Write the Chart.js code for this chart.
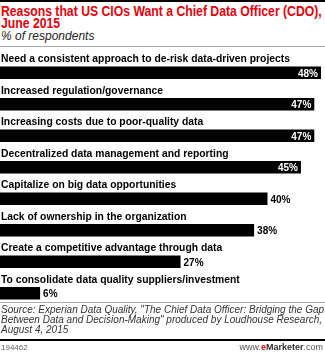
<!DOCTYPE html>
<html>
<head>
<meta charset="utf-8">
<script src="https://cdn.jsdelivr.net/npm/chart.js@4"></script>
<style>
  html, body { margin: 0; padding: 0; background: #fff; }
  #wrap { position: relative; width: 325px; height: 355px; overflow: hidden; font-family: "Liberation Sans", Arial, sans-serif; }
  .line { position: absolute; left: 1px; white-space: nowrap; transform-origin: 0 0; }
  .topline { position: absolute; left: 0; top: 0; width: 325px; height: 2px; background: #000; }
  .title { color: #e5000b; font-weight: bold; font-size: 15px; line-height: 12px; }
  .subtitle { color: #222; font-style: italic; font-size: 12px; line-height: 12px; }
  .sep { position: absolute; left: 0; top: 46px; width: 325px; height: 1px; background: #aaa; }
  #chartBox { position: absolute; left: 0; top: 45px; width: 325px; height: 264px; }
  .fsep { position: absolute; left: 0; top: 302px; width: 325px; height: 1px; background: #aaa; }
  .source { color: #333; font-style: italic; font-size: 11px; line-height: 10px; }
  .botline { position: absolute; left: 0; top: 339px; width: 325px; height: 2px; background: #000; }
  .id { position: absolute; left: 1px; top: 343px; color: #666; font-size: 8px; line-height: 9px; }
  .brand { position: absolute; right: 2px; top: 342px; color: #555; font-size: 9px; line-height: 10px; }
  .brand b { color: #333; }
  .brand .e { color: #e5000b; font-weight: bold; }
</style>
</head>
<body>
<div id="wrap">
  <div class="topline"></div>
  <div class="line title" data-group="title" data-w="321" style="top:5px">Reasons that US CIOs Want a Chief Data Officer (CDO),</div>
  <div class="line title" data-group="title" style="top:17px">June 2015</div>
  <div class="line subtitle" style="top:30px">% of respondents</div>
  <div class="sep"></div>
  <div id="chartBox"><canvas id="cdoChart" width="325" height="264"></canvas></div>
  <div class="fsep"></div>
  <div class="line source" data-group="source" style="top:304px">Source: Experian Data Quality, "The Chief Data Officer: Bridging the Gap</div>
  <div class="line source" data-group="source" data-w="321" style="top:314px">Between Data and Decision-Making" produced by Loudhouse Research,</div>
  <div class="line source" data-group="source" style="top:324px">August 4, 2015</div>
  <div class="botline"></div>
  <div class="id">194462</div>
  <div class="brand">www.<span class="e">e</span><b>Marketer</b>.com</div>
</div>
<script>
const reasons = [
  'Need a consistent approach to de-risk data-driven projects',
  'Increased regulation/governance',
  'Increasing costs due to poor-quality data',
  'Decentralized data management and reporting',
  'Capitalize on big data opportunities',
  'Lack of ownership in the organization',
  'Create a competitive advantage through data',
  'To consolidate data quality suppliers/investment'
];
const respondents = [48, 47, 47, 45, 40, 38, 27, 6];

// squeeze header/footer lines horizontally so the longest line fits its width
['title', 'source'].forEach(g => {
  const els = document.querySelectorAll('[data-group="' + g + '"]');
  let k = 1;
  els.forEach(el => { if (el.dataset.w) k = +el.dataset.w / el.scrollWidth; });
  els.forEach(el => { el.style.transform = 'scaleX(' + k + ')'; });
});

const labelFont = 'bold 11px "Liberation Sans", Arial, sans-serif';
const valueFont = 'bold 10px "Liberation Sans", Arial, sans-serif';

// category text above each bar plus the % value inside (long bars) or after (short bars)
const barText = {
  id: 'barText',
  afterDatasetsDraw(chart) {
    const ctx = chart.ctx;
    const meta = chart.getDatasetMeta(0);
    ctx.save();
    ctx.font = labelFont;
    const k = 289 / ctx.measureText(reasons[0]).width;
    meta.data.forEach((bar, i) => {
      const top = bar.y - bar.height / 2;
      ctx.save();
      ctx.fillStyle = '#000';
      ctx.font = labelFont;
      ctx.textAlign = 'left';
      ctx.textBaseline = 'alphabetic';
      ctx.translate(1, top - 4);
      ctx.scale(k, 1);
      ctx.fillText(reasons[i], 0, 0);
      ctx.restore();

      const v = respondents[i];
      ctx.font = valueFont;
      ctx.textBaseline = 'middle';
      if (v >= 45) {
        ctx.fillStyle = '#fff';
        ctx.textAlign = 'right';
        ctx.fillText(v + '%', bar.x - 3, bar.y + 1);
      } else {
        ctx.fillStyle = '#000';
        ctx.textAlign = 'left';
        ctx.fillText(v + '%', bar.x + 3, bar.y + 1);
      }
    });
    ctx.restore();
  }
};

new Chart(document.getElementById('cdoChart').getContext('2d'), {
  type: 'bar',
  data: {
    labels: reasons,
    datasets: [{
      data: respondents,
      backgroundColor: '#000',
      borderWidth: 0,
      barPercentage: 0.4,
      categoryPercentage: 1
    }]
  },
  options: {
    indexAxis: 'y',
    responsive: false,
    animation: false,
    layout: { padding: { top: 12, left: 0, right: 0, bottom: 0 } },
    plugins: { legend: { display: false }, tooltip: { enabled: false } },
    scales: {
      x: { display: false, min: 0, max: 48.6 },
      y: { display: false }
    }
  },
  plugins: [barText]
});
</script>
</body>
</html>
